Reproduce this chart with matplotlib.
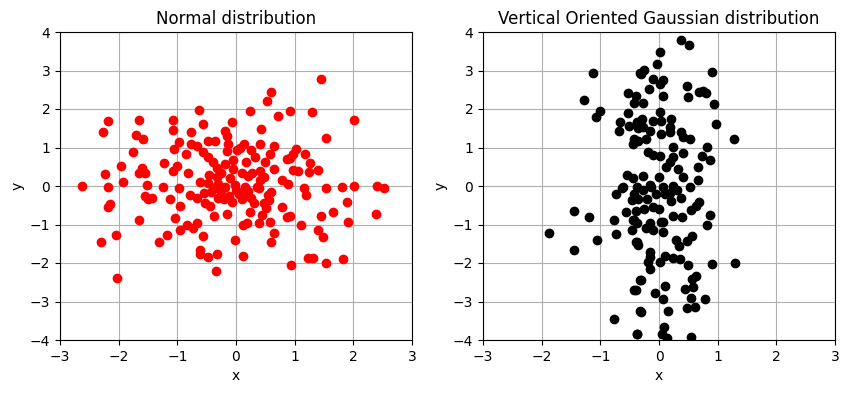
import matplotlib
matplotlib.use("Agg")
import matplotlib.pyplot as plt

normal_x = [-0.625,-2.19,-1.66,-1.08,-0.57,-0.07,-2.26,-1.70,-1.59,-1.08,-0.77,-0.98,-1.05,-0.76,-0.67,-0.47,-0.35,-0.18,-0.15,-0.13,-0.16,-0.86,-0.56,-0.47,-0.39,-0.33,-0.19,-0.05,0.01,-1.75,-1.96,-2.23,-1.92,-2.63,-2.19,-1.61,-1.65,-1.55,-1.52,-1.22,-1.0,-1.08,-0.82,-0.97,-1.25,-0.61,-0.46,-0.47,-0.33,-0.30,-0.19,-0.01,
            1.45,0.60,0.53,0.24,0.92,1.30,0.72,2.01,0.43,1.53,0.14,0.07,0.41,0.25,0.65,0.58,0.33,1.03,0.97,0.92,0.875,1.18,0.17,0.49,1.26,1.40,1.24,1.06,0.98,0.64,0.41,0.27,0.21,0.47,0.41,0.78,0.89,0.15,0.35,1.16,1.53,1.80,2.01,2.40,2.52,
            -1.55,-1.44,-1.50,-1.125,-2.15,-2.18,-0.95,-0.78,-0.67,-0.53,-0.44,-0.375,-0.16,-0.30,-0.07,-1.04,-1.65,-0.95,-0.84,-0.73,-0.66,-2.05,-2.30,-1.31,-1.17,-0.57,-0.02,-0.61,-0.61,-0.47,-0.32,-0.34,-2.02,0.125,
            -0.42,-0.25,-0.12,-0.20,-0.55,-0.35,
            0.60,0.94,1.22,1.32,1.53,1.83,1.11,1.39,1.49,0.65,0.58,0.40,0.125,0.19,0.875,0.92,0.78,0.51,0.44,0.24,0.30,0.57,0.55,1.19,1.45,1.66,1.90,1.91,2.39,
            0.05,0.15,0.25,0.10,0.20,0.0,0.40,0.48,0.60,
            -0.25,-0.10,-0.05,0.10]
normal_y = [1.97,1.68,1.72,1.71,1.60,1.66,1.40,1.32,1.23,1.45,1.39,1.15,0.95,1.09,1.03,1.16,1.16,1.43,1.29,1.10,0.91,0.82,0.89,0.76,0.63,0.48,0.57,0.67,0.93,0.88,0.52,0.30,0.10,0.0,-0.02,0.48,0.34,0.33,0.03,0.60,0.52,0.39,0.33,-0.04,-0.02,0.11,0.28,0.07,0.24,0.05,-0.02,0.03,
            2.78,2.43,2.22,1.94,1.96,1.93,1.81,1.71,1.47,1.24,1.10,1.0,1.09,0.93,1.03,0.84,0.76,0.97,0.84,0.73,0.69,0.82,0.63,0.63,0.60,0.41,0.37,0.39,0.41,0.44,0.40,0.33,0.26,0.24,0.16,0.16,0.04,-0.02,-0.02,-0.06,-0.06,-0.02,0.0,0.0,-0.06,
            -0.25,-0.32,-0.35,-0.35,-0.47,-0.54,-0.52,-0.23,-0.32,-0.43,-0.52,-0.78,-0.74,-0.32,-0.41,-0.84,-0.88,-1.13,-1.01,-1.10,-0.97,-1.27,-1.45,-1.45,-1.27,-1.30,-1.39,-1.66,-1.77,-1.85,-1.77,-2.21,-2.40,-1.82,
            -0.15,-0.12,-0.25,-0.35,-0.18,-0.05,
            -1.45,-2.05,-1.88,-1.88,-2.01,-1.90,-1.01,-1.13,-1.33,-1.21,-0.93,-0.95,-1.0,-0.97,-0.80,-0.78,-0.54,-0.58,-0.75,-0.67,-0.45,-0.36,-0.23,-0.23,-0.77,-0.68,-0.42,-0.94,-0.73,
            -0.20,-0.25,-0.30,-0.35,-0.12,-0.10,-0.05,-0.45,-0.15,
            0.35,0.20,0.45,0.35]

vert_x = [-1.13,-1.27,-1.01,-1.07,-0.33,-0.53,-0.40,-0.43,-0.53,-0.66,-0.68,-0.51,-0.42,-0.55,-0.62,
          0.37,0.51,0.01,-0.03,-0.25,-0.31,-0.11,0.07,0.01,-0.177,0.90,0.48,0.50,0.69,0.75,0.80,0.07,0.94,-0.27,0.01,-0.29,-0.11,0.04,0.21,0.97,1.28,-0.27,-0.16,0.18,0.04,0.18,0.38,0.41,0.53,-0.22,-0.35,-0.45,0.24,0.82,-0.18,0.01,-0.10,0.73,0.87,0.41,0.24,0.18,0.12,0.33,0.67,0.41,0.67,0.53,0.0,-0.27,-0.45,-0.15,-0.38,-0.37,-0.35,
          -1.45,-1.20,-1.88,-1.45,-1.06,-0.74,-0.76,-0.74,-0.56,-0.43,-0.46,-0.63,-0.46,-0.375,-0.40,-0.33,-0.77,-0.33,-0.375,
          1.30,0.91,0.50,0.35,0.24,0.11,0.01,-0.16,-0.19,-0.16,-0.16,-0.39,-0.35,-0.23,-0.11,0.07,0.04,0.29,0.34,0.47,0.57,0.24,0.39,0.82,0.87,0.55,0.63,0.69,0.38,-0.30,-0.43,-0.07,0.10,0.06,0.15,0.44,0.58,0.63,0.57,0.54,0.78,0.47,0.62,-0.31,-0.37,0.09,0.05,0.14,0.55,
          -0.42,-0.28,-0.13,0.07,0.24,-0.05,0.10,0.18,-0.35,-0.20,-0.40,-0.25,-0.10,-0.15,-0.45,-0.38,0.07,0.0,0.20,0.30]
vert_y = [2.93,2.23,1.96,1.80,2.93,2.41,2.34,2.15,1.89,1.67,1.44,1.55,1.22,0.28,-0.03,
          3.78,3.66,3.48,3.18,3.02,2.92,2.78,2.75,2.65,2.52,2.97,2.60,2.32,2.43,2.47,2.41,2.34,2.13,2.15,1.91,1.74,1.70,1.70,1.74,1.61,1.22,1.53,1.44,1.53,1.35,1.40,1.40,1.27,1.21,1.22,1.18,1.10,1.01,1.01,0.88,0.77,0.80,0.79,0.68,0.85,0.75,0.62,0.49,0.45,0.49,0.23,0.15,-0.03,0.23,0.25,0.20,0.02,-0.02,1.65,1.50,
          -0.66,-0.81,-1.23,-1.66,-1.40,-0.21,-0.88,-1.25,-0.67,-0.88,-1.13,-0.06,-0.36,-1.45,-2.70,-2.44,-3.45,-3.25,-3.84,
          -2.01,-2.03,-2.05,-1.89,-1.86,-1.81,-1.97,-1.84,-1.97,-2.16,-1.71,-1.45,-1.53,-1.10,-1.14,-1.19,-0.94,-1.39,-1.56,-1.43,-1.30,-0.78,-0.81,-1.0,-0.75,-0.62,-0.52,-0.41,-0.32,-2.44,-2.70,-2.79,-2.60,-2.94,-3.25,-2.68,-2.63,-2.35,-2.42,-2.92,-2.94,-3.18,-3.13,-3.26,-3.84,-3.65,-3.84,-3.96,-3.91,
          -0.20,-0.10,-0.02,-0.02,0.0,-0.22,-0.22,-0.18,-0.35,-0.35,-0.65,-0.60,-0.55,-0.95,-0.88,-0.95,-0.93,-0.60,-0.40,-0.10]

titles = ["Normal distribution", "Vertical Oriented Gaussian distribution"]

fig = plt.figure(figsize=(8.49, 3.93), dpi=100)
ax1 = fig.add_axes([60/849, 1-340/393, 352/849, 308/393])
ax2 = fig.add_axes([483/849, 1-340/393, 352/849, 308/393])

for ax, xs, ys, c, t in [(ax1, normal_x, normal_y, "red", titles[0]),
                         (ax2, vert_x, vert_y, "black", titles[1])]:
    ax.scatter(xs, ys, color=c, zorder=3)
    ax.set_xlim(-3, 3)
    ax.set_ylim(-4, 4)
    ax.grid(True)
    ax.set_axisbelow(True)
    ax.set_xlabel("x")
    ax.set_ylabel("y")
    ax.set_title(t)

fig.savefig("out.png", dpi=100)
